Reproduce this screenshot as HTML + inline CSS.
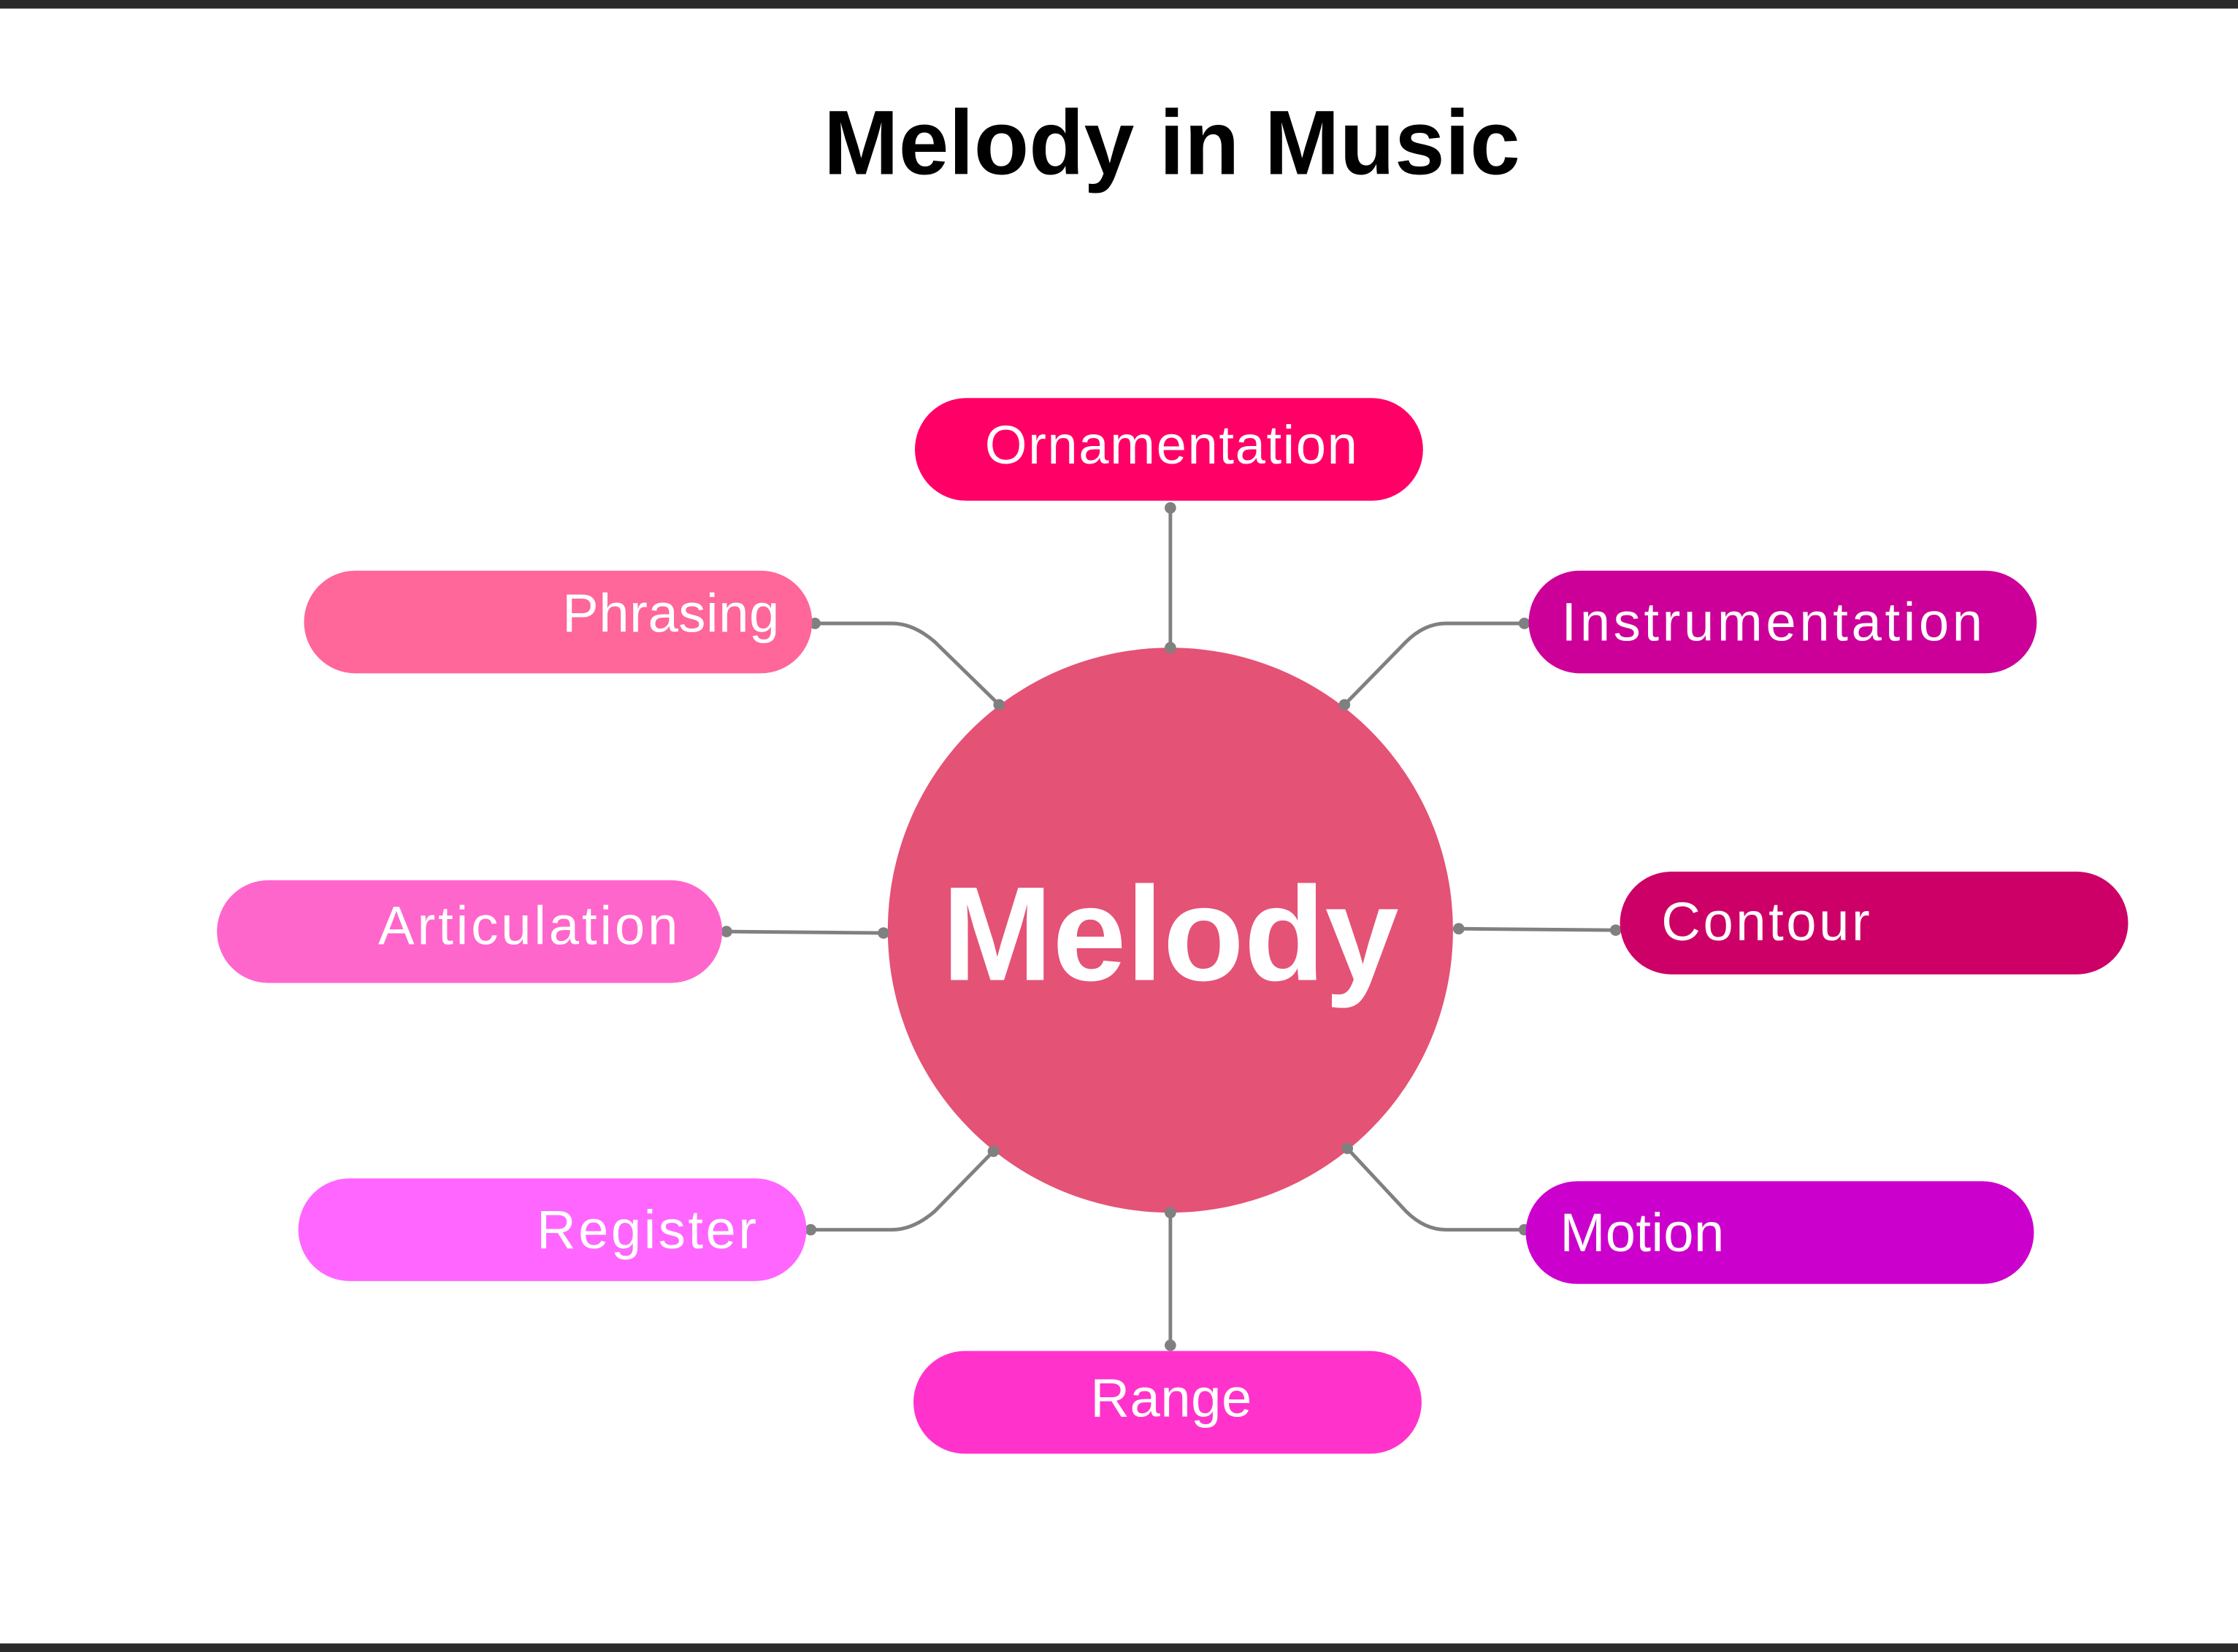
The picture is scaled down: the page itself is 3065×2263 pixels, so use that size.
<!DOCTYPE html>
<html><head><meta charset="utf-8"><style>html,body{margin:0;padding:0;background:#fff}svg{display:block}</style></head>
<body>
<svg width="3065" height="2263" viewBox="0 0 1568 1158" preserveAspectRatio="none" xmlns="http://www.w3.org/2000/svg">
<rect x="0" y="0" width="1568" height="6" fill="#2b2b2b"/>
<rect x="0" y="1152" width="1568" height="6" fill="#2b2b2b"/>
<text x="821" y="122" text-anchor="middle" font-family="Liberation Sans, sans-serif" font-weight="bold" font-size="64" textLength="488" lengthAdjust="spacingAndGlyphs">Melody in Music</text>
<g stroke="#808080" stroke-width="2.5" fill="none">
<path d="M820 356 V454"/>
<path d="M571 437 H625 Q640 437 655 450 L700 494"/>
<path d="M1068 437 H1013 Q998 437 985 450 L942 494"/>
<path d="M509 653 L619 654"/>
<path d="M1022 651 L1132 652"/>
<path d="M568 862 H625 Q640 862 655 849 L696 807"/>
<path d="M1068 862 H1013 Q998 862 985 849 L944 805"/>
<path d="M820 850 V943"/>
</g>
<circle cx="820" cy="652" r="198" fill="#E45276"/>
<g fill="#808080">
<circle cx="820" cy="356" r="4"/><circle cx="820" cy="454" r="4"/>
<circle cx="571" cy="437" r="4"/><circle cx="700" cy="494" r="4"/>
<circle cx="1068" cy="437" r="4"/><circle cx="942" cy="494" r="4"/>
<circle cx="509" cy="653" r="4"/><circle cx="619" cy="654" r="4"/>
<circle cx="1022" cy="651" r="4"/><circle cx="1132" cy="652" r="4"/>
<circle cx="568" cy="862" r="4"/><circle cx="696" cy="807" r="4"/>
<circle cx="1068" cy="862" r="4"/><circle cx="944" cy="805" r="4"/>
<circle cx="820" cy="850" r="4"/><circle cx="820" cy="943" r="4"/>
</g>
<rect x="641" y="279" width="356" height="72" rx="36" fill="#FF0066"/>
<rect x="213" y="400" width="356" height="72" rx="36" fill="#FF6699"/>
<rect x="1071" y="400" width="356" height="72" rx="36" fill="#CC0099"/>
<rect x="152" y="617" width="354" height="72" rx="36" fill="#FF66CC"/>
<rect x="1135" y="611" width="356" height="72" rx="36" fill="#CC0066"/>
<rect x="209" y="826" width="356" height="72" rx="36" fill="#FF66FF"/>
<rect x="1069" y="828" width="356" height="72" rx="36" fill="#CC00CC"/>
<rect x="640" y="947" width="356" height="72" rx="36" fill="#FF33CC"/>
<g fill="#fff" font-family="Liberation Sans, sans-serif" font-size="38" lengthAdjust="spacingAndGlyphs">
<text x="690" y="325" textLength="261">Ornamentation</text>
<text x="394" y="443" textLength="152">Phrasing</text>
<text x="1094" y="449" textLength="295">Instrumentation</text>
<text x="265" y="662" textLength="210">Articulation</text>
<text x="1164" y="659" textLength="146">Contour</text>
<text x="376" y="875" textLength="154">Register</text>
<text x="1093" y="877" textLength="115">Motion</text>
<text x="764" y="993" textLength="113">Range</text>
</g>
<text x="820" y="687" text-anchor="middle" fill="#fff" font-family="Liberation Sans, sans-serif" font-weight="bold" font-size="94" textLength="320" lengthAdjust="spacingAndGlyphs">Melody</text>
</svg>
</body></html>
